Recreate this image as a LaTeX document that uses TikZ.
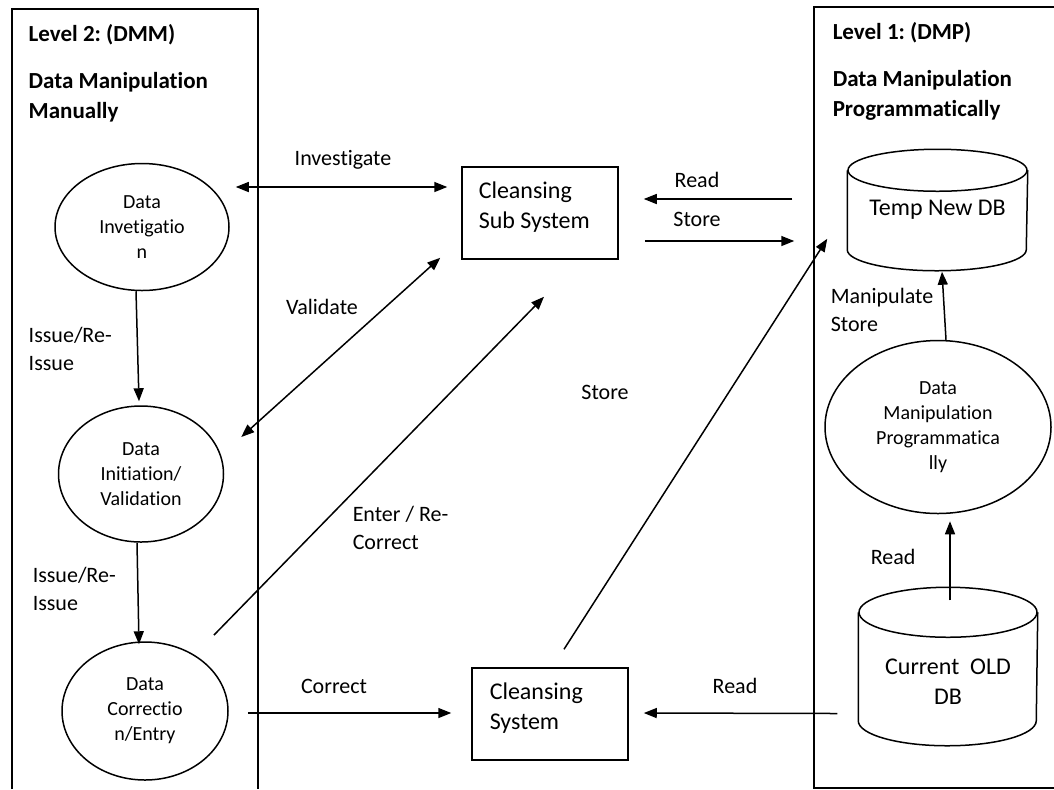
\documentclass[tikz,border=0pt]{standalone}
\usepackage{fontspec}
\setmainfont{Carlito}[Ligatures={NoCommon}]
\usetikzlibrary{arrows.meta,shapes.geometric}
\frenchspacing
\begin{document}
\begin{tikzpicture}[x=0.5pt,y=-0.5pt,line width=0.75pt,
  tip/.tip={Triangle[length=6.5pt,width=5pt]},
  flow/.style={-tip},
  twoway/.style={tip-tip},
  proc/.style={draw,ellipse,inner sep=0pt,align=center,font=\fontsize{10}{12.5}\selectfont},
  boxnode/.style={draw,rectangle,inner sep=0pt,minimum width=78pt,minimum height=46pt},
  boxtext/.style={align=left,inner sep=0pt,font=\fontsize{12}{15}\selectfont},
  dbbody/.style={rectangle,inner sep=0pt,align=center,font=\fontsize{12}{15}\selectfont},
  lbl/.style={inner sep=0pt,align=left,font=\fontsize{11}{14}\selectfont},
  head/.style={inner sep=0pt,align=left,font=\bfseries\fontsize{11.5}{15}\selectfont}]
\useasboundingbox (0,0) rectangle (1054,789);

% level frames
\draw (12,789) -- (12,9) -- (258,9) -- (258,789);
\draw (1054,7) -- (814,7) -- (814,788) -- (1054,788);

% headings
\node[head,anchor=west] (h2a) at (28,35) {Level 2: (DMM)};
\node[head,anchor=west] (h2b) at (28,97) {Data Manipulation\\Manually};
\node[head,anchor=west] (h1a) at (832,33) {Level 1: (DMP)};
\node[head,anchor=west] (h1b) at (832,95) {Data Manipulation\\Programmatically};

% manual processes
\node[proc,minimum width=87pt,minimum height=63.5pt] (inv) at (142,227) {Data\\Invetigatio\\n};
\node[proc,minimum width=82.5pt,minimum height=68pt] (ini) at (141,474) {Data\\Initiation/\\Validation};
\node[proc,minimum width=83pt,minimum height=69pt] (cor) at (145,711) {Data\\Correctio\\n/Entry};

% programmatic process
\node[proc,minimum width=113pt,minimum height=86.5pt] (dmp) at (938,427) {Data\\Manipulation\\Programmatica\\lly};

% cleansing systems
\node[boxnode] (css) at (540,213) {};
\node[boxtext,anchor=west] (csst) at (478,207) {Cleansing\\Sub System};
\node[boxnode] (cs) at (550,714) {};
\node[boxtext,anchor=west] (cst) at (489,708) {Cleansing\\System};

% databases
\node[dbbody,minimum width=89.5pt,minimum height=39pt] (tdb) at (937.5,210) {Temp New DB};
\draw (tdb.north west) -- (tdb.south west)
  arc[start angle=180,end angle=360,x radius=44.75pt,y radius=10.5pt] -- (tdb.north east);
\draw (tdb.north) ellipse[x radius=44.75pt,y radius=10.5pt];

\node[dbbody,minimum width=89pt,minimum height=53.5pt] (odb) at (948,666.5) {};
\node[dbbody] (odbt) at (948,682) {Current\ \ OLD\\DB};
\draw (odb.north west) -- (odb.south west)
  arc[start angle=180,end angle=360,x radius=44.5pt,y radius=12.5pt] -- (odb.north east);
\draw (odb.north) ellipse[x radius=44.5pt,y radius=12.5pt];

% connectors
\draw[twoway] ([shift={(6,-40)}]inv.east) -- ([shift={(-14,-26)}]css.west);
\draw[flow] ([shift={(-55,-11)}]tdb.west) -- ([shift={(25,-14)}]css.east);
\draw[flow] ([shift={(26,28)}]css.east) -- ([shift={(-53,31)}]tdb.west);
\draw[twoway] ([shift={(17,-37)}]ini.east) -- ([shift={(-21,-2)}]css.south west);
\draw[flow] ([shift={(69,-76)}]cor.center) -- ([shift={(4,37)}]css.south);
\draw[flow] ([shift={(14,-18)}]cs.north) -- ([shift={(-20,-11)}]tdb.south west);
\draw[flow] ([shift={(19,2)}]cor.east) -- ([shift={(-20,-1)}]cs.west);
\draw[flow] ([shift={(-21,47)}]odb.west) -- ([shift={(15,-1)}]cs.east);
\draw[flow] ([xshift=-3]inv.south) -- ([shift={(-2,-4)}]ini.north);
\draw[flow] ([xshift=-2]ini.south) -- ([shift={(-6,3)}]cor.north);
\draw[flow] ([shift={(2,-12)}]odb.north) -- ([shift={(12,7)}]dmp.south);
\draw[flow] ([xshift=4]dmp.north) -- ([shift={(4.5,22)}]tdb.south);

% connector labels
\node[lbl] (l1) at (343,160) {Investigate};
\node[lbl] (l2) at (697,180) {Read};
\node[lbl] (l3) at (697,219) {Store};
\node[lbl] (l4) at (322,307) {Validate};
\node[lbl,anchor=west] (l5) at (352,528) {Enter / Re-\\Correct};
\node[lbl] (l6) at (605,392) {Store};
\node[lbl] (l7) at (334,686) {Correct};
\node[lbl] (l8) at (735,686) {Read};
\node[lbl,anchor=west] (l9) at (28,349) {Issue/Re-\\Issue};
\node[lbl,anchor=west] (l10) at (32,589) {Issue/Re-\\Issue};
\node[lbl,anchor=west] (l11) at (830,310) {Manipulate\\Store};
\node[lbl,anchor=west] (l12) at (870,557) {Read};
\end{tikzpicture}
\end{document}
